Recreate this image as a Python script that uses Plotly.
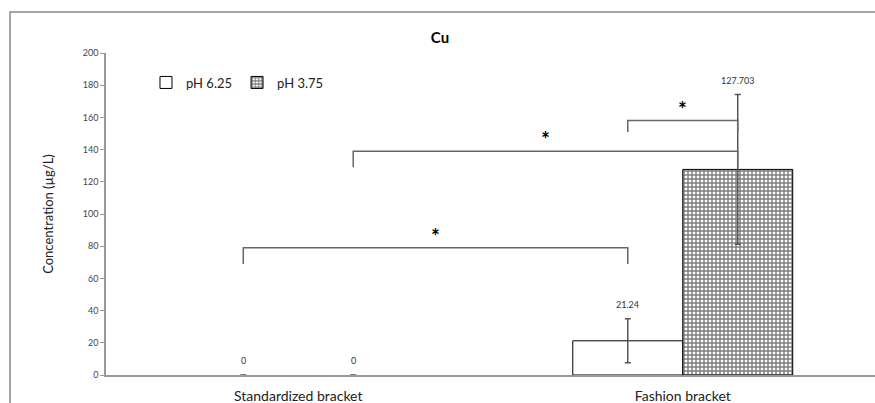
import plotly.graph_objects as go

categories = ["Standardized bracket", "Fashion bracket"]
series_names = ["pH 6.25", "pH 3.75"]
ph625_values = [0, 21.24]
ph375_values = [0, 127.703]
ph625_err = [None, 13.7]
ph375_err = [None, 46.5]
value_labels_625 = ["0", "21.24"]
value_labels_375 = ["0", "127.703"]
# significance brackets: (category index a, series index a, category index b, series index b, level, drop)
brackets = [
    (0, 0, 1, 0, 79, 10),
    (0, 1, 1, 1, 139, 10),
    (1, 0, 1, 1, 158, 7),
]
y_ticks = list(range(0, 201, 20))

FONT = "Lato"
BAR_W = 0.286
offsets = [-BAR_W / 2, BAR_W / 2]

pattern_375 = dict(shape="+", fgcolor="black", bgcolor="white", size=4, solidity=0.6)
styles = [
    dict(color="white"),
    dict(color="white", pattern=pattern_375),
]

def outline_widths(vals):
    return [1 if v else 0 for v in vals]

fig = go.Figure()
for si, (name, vals, errs) in enumerate([(series_names[0], ph625_values, ph625_err),
                                         (series_names[1], ph375_values, ph375_err)]):
    fig.add_trace(go.Bar(
        name=name, x=categories, y=vals, offsetgroup=str(si), legendgroup=str(si),
        showlegend=False,
        marker=dict(**styles[si], line=dict(color="black", width=outline_widths(vals))),
        error_y=dict(type="data", array=errs, color="#555", thickness=1.5, width=3),
    ))
    # legend entry (shares the same offset group, draws no bar)
    fig.add_trace(go.Bar(
        name=name, x=[categories[0]], y=[None], offsetgroup=str(si), legendgroup=str(si),
        showlegend=True, hoverinfo="skip",
        marker=dict(**styles[si], line=dict(color="black", width=1)),
    ))

shapes = []
annotations = []
# value labels
for si, (vals, errs, labs) in enumerate([(ph625_values, ph625_err, value_labels_625),
                                         (ph375_values, ph375_err, value_labels_375)]):
    for ci in range(len(categories)):
        top = vals[ci] + (errs[ci] or 0)
        annotations.append(dict(x=ci + offsets[si], y=top, xref="x", yref="y", text=labs[ci],
                                showarrow=False, yanchor="bottom", yshift=7,
                                font=dict(family=FONT, size=9, color="#333")))

for ca, sa, cb, sb, level, drop in brackets:
    xa = ca + offsets[sa]
    xb = cb + offsets[sb]
    shapes.append(dict(type="path", xref="x", yref="y",
                       path=f"M {xa},{level - drop} L {xa},{level} L {xb},{level} L {xb},{level - drop}",
                       line=dict(color="#666", width=1.5)))
    annotations.append(dict(x=(xa + xb) / 2, y=level, xref="x", yref="y", text="<b>*</b>",
                            showarrow=False, yanchor="bottom", yshift=-2,
                            font=dict(family=FONT, size=21, color="black")))

# outer frame
shapes.append(dict(type="rect", xref="paper", yref="paper", x0=(10 - 106) / 769, x1=1.3,
                   y0=-0.3, y1=(375 - 12) / 322, line=dict(color="#888", width=1.5), layer="below"))

fig.update_layout(
    width=875, height=403,
    margin=dict(l=106, r=0, t=53, b=28),
    paper_bgcolor="white", plot_bgcolor="white",
    barmode="group", bargap=0.428, bargroupgap=0,
    font=dict(family=FONT, size=12, color="#333"),
    title=dict(text="<b>Cu</b>", xref="container", x=440 / 875, xanchor="center",
               yref="container", y=1 - 38 / 403, yanchor="middle",
               font=dict(family=FONT, size=15, color="black")),
    showlegend=True,
    legend=dict(orientation="h", x=0.052, xanchor="left", y=0.955, yanchor="top",
                bgcolor="rgba(0,0,0,0)", font=dict(family=FONT, size=13, color="#222"),
                itemwidth=30, tracegroupgap=0, traceorder="normal"),
    shapes=shapes, annotations=annotations,
)
fig.update_xaxes(showgrid=False, showline=True, linecolor="#999", linewidth=1.5,
                 ticks="", ticklabelstandoff=7,
                 tickfont=dict(family=FONT, size=14, color="#222"), range=[-0.5, 1.5])
fig.update_yaxes(range=[0, 200], tickvals=y_ticks, showgrid=False, zeroline=False,
                 showline=True, linecolor="#999", linewidth=1.5,
                 ticks="outside", ticklen=4, tickcolor="#999",
                 tickfont=dict(family=FONT, size=9, color="#444"),
                 title=dict(text="Concentration (µg/L)", standoff=26,
                            font=dict(family=FONT, size=13, color="#222")))

fig.write_html("out.html")
